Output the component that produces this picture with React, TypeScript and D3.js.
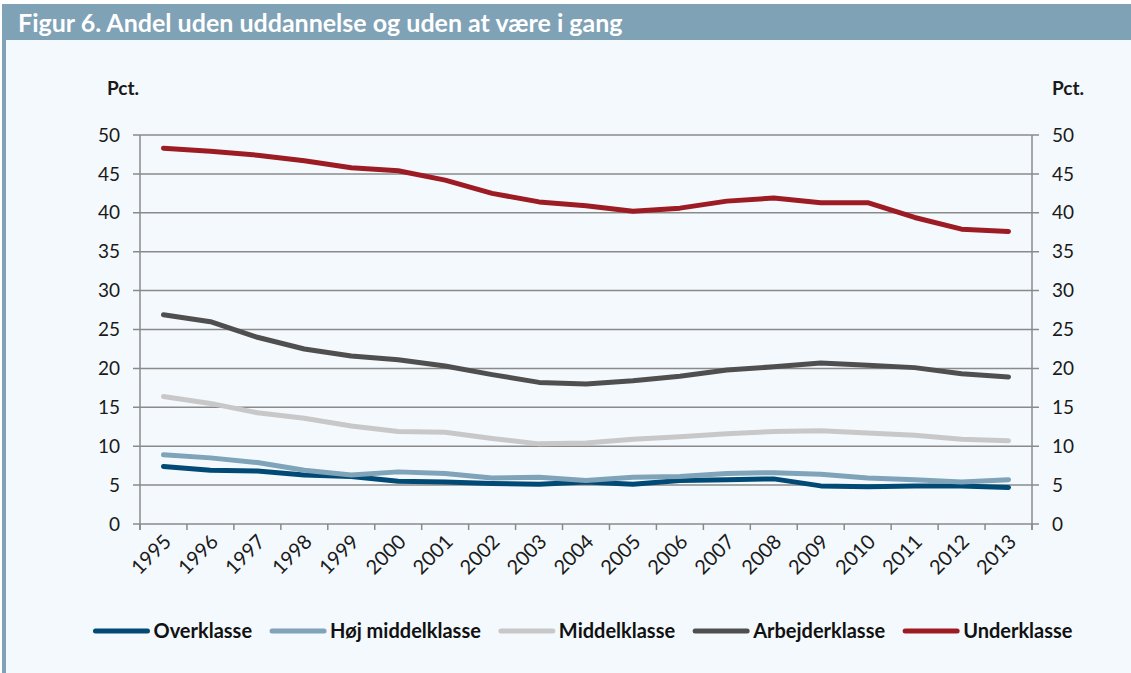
import React, { useRef, useEffect } from 'react';
import * as d3 from 'd3';

const years = ['1995', '1996', '1997', '1998', '1999', '2000', '2001', '2002', '2003', '2004',
  '2005', '2006', '2007', '2008', '2009', '2010', '2011', '2012', '2013'];

const overklasse = [7.4, 6.9, 6.8, 6.3, 6.1, 5.5, 5.4, 5.2, 5.1, 5.4, 5.1, 5.6, 5.7, 5.8, 4.9, 4.8, 4.9, 4.9, 4.7];
const hojMiddelklasse = [8.9, 8.5, 7.9, 6.9, 6.3, 6.7, 6.5, 5.9, 6.0, 5.6, 6.0, 6.1, 6.5, 6.6, 6.4, 5.9, 5.7, 5.4, 5.7];
const middelklasse = [16.4, 15.5, 14.3, 13.6, 12.6, 11.9, 11.8, 11.0, 10.3, 10.4, 10.9, 11.2, 11.6, 11.9, 12.0, 11.7, 11.4, 10.9, 10.7];
const arbejderklasse = [26.9, 26.0, 24.0, 22.5, 21.6, 21.1, 20.3, 19.2, 18.2, 18.0, 18.4, 19.0, 19.8, 20.2, 20.7, 20.4, 20.1, 19.3, 18.9];
const underklasse = [48.3, 47.9, 47.4, 46.7, 45.8, 45.4, 44.2, 42.5, 41.4, 40.9, 40.2, 40.6, 41.5, 41.9, 41.3, 41.3, 39.4, 37.9, 37.6];

const seriesNames = ['Overklasse', 'Høj middelklasse', 'Middelklasse', 'Arbejderklasse', 'Underklasse'];
const seriesColors = ['#004a75', '#7fa3b8', '#c8c8c8', '#4f4f4f', '#9d1c24'];
const yTicks = [0, 5, 10, 15, 20, 25, 30, 35, 40, 45, 50];

const FONT = 'Lato, "Open Sans", sans-serif';

const App = () => {
  const svgRef = useRef(null);
  const width = 1131;
  const height = 673;

  useEffect(() => {
    document.body.style.margin = '0';
    const svg = d3.select(svgRef.current);
    svg.selectAll('*').remove();

    // panel + title bar
    svg.append('rect').attr('x', 0).attr('y', 0).attr('width', width).attr('height', height).attr('fill', '#ffffff');
    svg.append('rect').attr('x', 2).attr('y', 4).attr('width', width - 2).attr('height', height - 4).attr('fill', '#f4f9fd');
    svg.append('rect').attr('x', 2).attr('y', 4).attr('width', width - 2).attr('height', 36).attr('fill', '#7fa2b7');
    svg.append('rect').attr('x', 2).attr('y', 4).attr('width', 4).attr('height', height - 4).attr('fill', '#7fa2b7');
    svg.append('text')
      .attr('x', 18).attr('y', 32)
      .attr('fill', '#ffffff')
      .style('font-family', FONT).style('font-weight', 700).style('font-size', '25px')
      .text('Figur 6. Andel uden uddannelse og uden at være i gang');

    const left = 140, right = 1032, top = 135, bottom = 524;

    const x = d3.scaleBand().domain(years).range([left, right]);
    const y = d3.scaleLinear().domain([0, 50]).range([bottom, top]);

    // gridlines
    svg.append('g').selectAll('line').data(yTicks).join('line')
      .attr('x1', left - 7).attr('x2', right + 7)
      .attr('y1', d => y(d)).attr('y2', d => y(d))
      .attr('stroke', '#8a8a8a').attr('stroke-width', 1.5);

    // axis lines
    [left, right].forEach(px => {
      svg.append('line').attr('x1', px).attr('x2', px).attr('y1', top).attr('y2', bottom + 6)
        .attr('stroke', '#8a8a8a').attr('stroke-width', 1.5);
    });

    // x ticks at band boundaries
    const bounds = years.map(d => x(d)).concat([right]);
    svg.append('g').selectAll('line').data(bounds).join('line')
      .attr('x1', d => d).attr('x2', d => d)
      .attr('y1', bottom).attr('y2', bottom + 6)
      .attr('stroke', '#8a8a8a').attr('stroke-width', 1.5);

    // y labels
    const labelStyle = (sel, size) => sel.style('font-family', FONT).style('font-size', size).attr('fill', '#1a1a1a');
    svg.append('g').selectAll('text').data(yTicks).join('text')
      .attr('x', 120).attr('y', d => y(d)).attr('dy', '0.35em')
      .attr('text-anchor', 'end')
      .call(labelStyle, '19px')
      .text(d => d);
    svg.append('g').selectAll('text').data(yTicks).join('text')
      .attr('x', 1052).attr('y', d => y(d)).attr('dy', '0.35em')
      .attr('text-anchor', 'start')
      .call(labelStyle, '19px')
      .text(d => d);

    // Pct. labels
    [107, 1052].forEach(px => {
      svg.append('text').attr('x', px).attr('y', 95)
        .style('font-family', FONT).style('font-weight', 700).style('font-size', '19px')
        .attr('fill', '#1a1a1a')
        .text('Pct.');
    });

    // x labels rotated
    svg.append('g').selectAll('text').data(years).join('text')
      .attr('transform', d => `translate(${x(d) + x.bandwidth() / 2 + 4},${bottom + 14}) rotate(-45)`)
      .attr('text-anchor', 'end')
      .attr('dy', '0.35em')
      .call(labelStyle, '20px')
      .text(d => d);

    // lines
    const allSeries = [overklasse, hojMiddelklasse, middelklasse, arbejderklasse, underklasse];
    const line = d3.line()
      .x((d, i) => x(years[i]) + x.bandwidth() / 2)
      .y(d => y(d));
    allSeries.forEach((vals, i) => {
      svg.append('path')
        .datum(vals)
        .attr('fill', 'none')
        .attr('stroke', seriesColors[i])
        .attr('stroke-width', 5)
        .attr('stroke-linecap', 'round')
        .attr('stroke-linejoin', 'round')
        .attr('d', line);
    });

    // legend
    const legend = svg.append('g');
    const swatch = 56, gapText = 4, gapItem = 18, ly = 631;
    let cx = 0;
    seriesNames.forEach((name, i) => {
      const g = legend.append('g').attr('transform', `translate(${cx},0)`);
      g.append('line').attr('x1', 2).attr('x2', swatch - 2).attr('y1', ly).attr('y2', ly)
        .attr('stroke', seriesColors[i]).attr('stroke-width', 5).attr('stroke-linecap', 'round');
      const t = g.append('text').attr('x', swatch + gapText).attr('y', ly).attr('dy', '0.35em')
        .style('font-family', FONT).style('font-weight', 700).style('font-size', '20px')
        .attr('fill', '#111')
        .text(name);
      const w = t.node().getComputedTextLength();
      cx += swatch + gapText + w + gapItem;
    });
    const total = cx - gapItem;
    legend.attr('transform', `translate(${583 - total / 2},0)`);
  }, []);

  return <svg ref={svgRef} width={width} height={height} style={{ display: 'block' }}></svg>;
};

export default App;
